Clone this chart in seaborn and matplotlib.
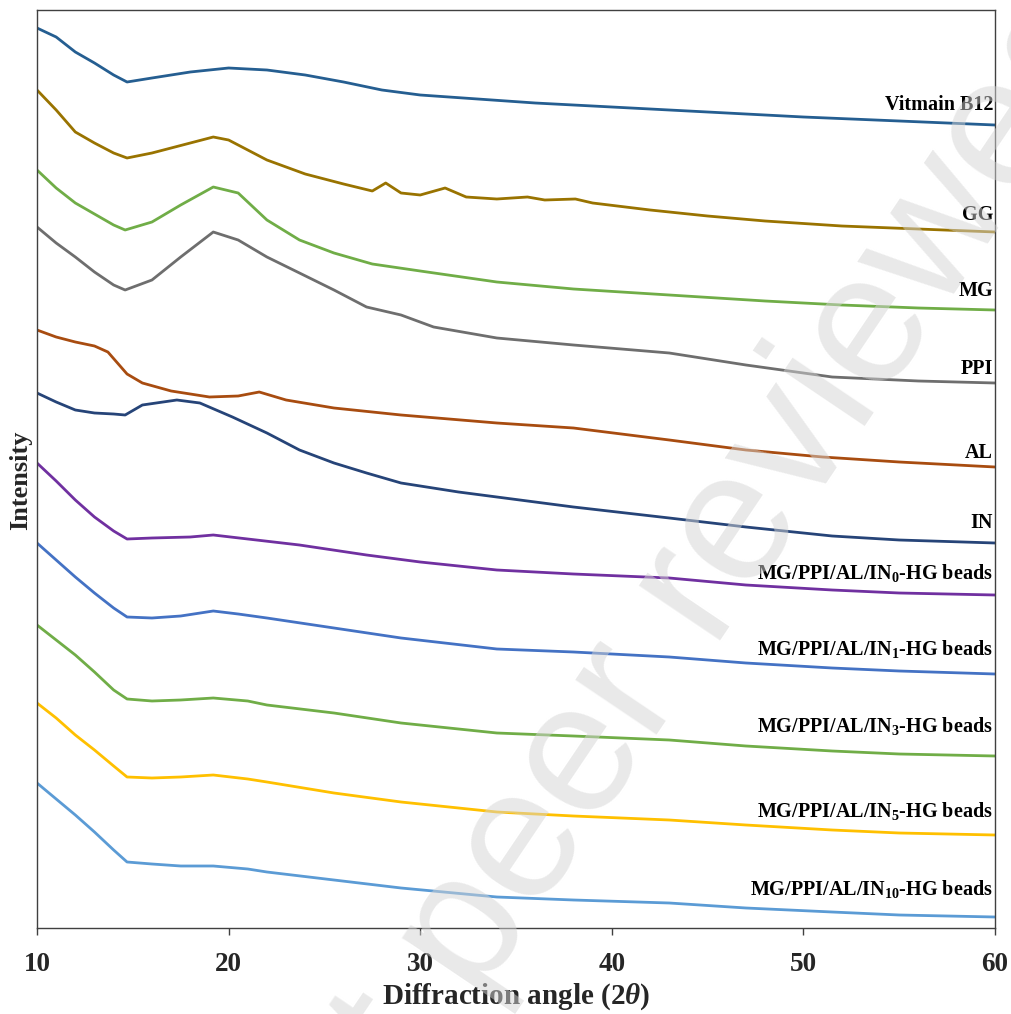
import numpy as np
import pandas as pd
import matplotlib
matplotlib.use('Agg')
import matplotlib.pyplot as plt
import seaborn as sns

# XRD patterns (intensity in arbitrary, stacked units)
x_b12 = [10, 11, 12, 13, 14, 14.7, 16, 18, 20, 22, 24, 26, 28, 30, 33, 36, 40, 45, 50, 55, 60]
y_b12 = [900, 891, 876, 865, 853, 846, 850, 856, 860, 858, 853, 846, 838, 833, 829, 825, 821, 816, 811, 807, 803]

x_gg = [10, 11, 12, 13, 14, 14.7, 16, 18, 19.2, 20, 22, 24, 26, 27.5, 28.2, 29, 30, 31.3, 32.4, 34,
        35.6, 36.5, 38.1, 39, 42, 45, 48, 52, 56, 60]
y_gg = [838, 818, 796, 785, 775, 770, 775, 785, 791, 788, 768, 754, 744, 737, 745, 735, 733, 740, 731, 729,
        731, 728, 729, 725, 718, 712, 707, 702, 699, 696]

x_mg = [10, 11, 12, 13, 14, 14.6, 16, 17.5, 19.2, 20.5, 22, 23.7, 25.5, 27.5, 30, 34, 38, 43, 48, 52, 56, 60]
y_mg = [758, 740, 725, 714, 703, 698, 706, 723, 741, 735, 708, 688, 675, 664, 657, 646, 639, 633, 627, 623, 620, 618]

x_ppi = [10, 11, 12, 13, 14, 14.6, 16, 17.5, 19.2, 20.5, 22, 23.7, 25.5, 27.2, 29, 30.7, 34, 38, 43, 47, 51.5, 56, 60]
y_ppi = [701, 685, 671, 656, 643, 638, 648, 671, 696, 688, 671, 655, 638, 621, 613, 601, 590, 583, 575, 563, 551, 547, 545]

x_al = [10, 11, 12, 13, 13.7, 14.2, 14.7, 15.5, 17, 19, 20.5, 21.6, 23, 25.5, 29, 34, 38, 43, 47, 51, 55, 60]
y_al = [598, 591, 586, 582, 576, 565, 554, 545, 537, 531, 532, 536, 528, 520, 513, 505, 500, 488, 478, 471, 466, 461]

x_in = [10, 11, 12, 13, 14, 14.6, 15.5, 17.3, 18.5, 20.2, 22, 23.7, 25.5, 27.2, 29, 32, 34, 38, 43, 47, 51.5, 55, 60]
y_in = [535, 526, 518, 515, 514, 513, 523, 528, 525, 511, 495, 478, 465, 455, 445, 436, 431, 421, 410, 401, 392, 388, 385]

x_in0 = [10, 11, 12, 13, 14, 14.7, 16, 18, 19.2, 21, 23.7, 27.2, 30, 34, 38, 43, 47, 51.5, 55, 60]
y_in0 = [465, 447, 428, 411, 397, 389, 390, 391, 393, 389, 383, 373, 366, 358, 354, 350, 343, 338, 335, 333]

x_in1 = [10, 11, 12, 13, 14, 14.7, 16, 17.5, 19.2, 20.5, 22, 25.5, 29, 34, 38, 43, 47, 51.5, 55, 60]
y_in1 = [385, 368, 351, 335, 320, 311, 310, 312, 317, 314, 310, 300, 290, 279, 276, 271, 265, 260, 257, 254]

x_beads = [10, 11, 12, 13, 14, 14.7, 16, 17.5, 19.2, 21, 22, 25.5, 29, 34, 38, 43, 47, 51.5, 55, 60]
y_in3 = [303, 288, 273, 256, 238, 229, 227, 228, 230, 227, 223, 215, 205, 195, 192, 188, 182, 177, 174, 172]
y_in5 = [225, 210, 193, 178, 162, 151, 150, 151, 153, 149, 146, 135, 126, 116, 112, 108, 103, 98, 95, 93]
y_in10 = [145, 129, 113, 96, 78, 66, 64, 62, 62, 59, 56, 48, 40, 31, 28, 25, 20, 16, 13, 11]

sample_names = ['Vitmain B12', 'GG', 'MG', 'PPI', 'AL', 'IN',
                'MG/PPI/AL/IN$_\\mathrm{0}$-HG beads',
                'MG/PPI/AL/IN$_\\mathrm{1}$-HG beads',
                'MG/PPI/AL/IN$_\\mathrm{3}$-HG beads',
                'MG/PPI/AL/IN$_\\mathrm{5}$-HG beads',
                'MG/PPI/AL/IN$_\\mathrm{10}$-HG beads']
x_tick_values = [10, 20, 30, 40, 50, 60]

series = [(x_b12, y_b12), (x_gg, y_gg), (x_mg, y_mg), (x_ppi, y_ppi), (x_al, y_al), (x_in, y_in),
          (x_in0, y_in0), (x_in1, y_in1), (x_beads, y_in3), (x_beads, y_in5), (x_beads, y_in10)]

# layout / style
colors = ['#255E91', '#997300', '#70AD47', '#6E6E6E', '#A84C10', '#264478',
          '#7030A0', '#4472C4', '#70AD47', '#FFC000', '#5B9BD5']
label_y = [823, 713, 637, 559, 475, 405, 355, 279, 202, 117, 39]

frames = []
for name, (xs, ys) in zip(sample_names, series):
    frames.append(pd.DataFrame({'angle': xs, 'intensity': ys, 'sample': name}))
df = pd.concat(frames, ignore_index=True)

sns.set_theme(style='white')
plt.rcParams['font.family'] = ['Liberation Serif', 'DejaVu Serif']
plt.rcParams['mathtext.fontset'] = 'custom'
plt.rcParams['mathtext.rm'] = 'Liberation Serif:bold'
plt.rcParams['mathtext.it'] = 'Liberation Serif:italic:bold'
plt.rcParams['mathtext.bf'] = 'Liberation Serif:bold'

fig = plt.figure(figsize=(10.11, 10.14), dpi=100)
ax = fig.add_axes([37 / 1011, 1 - 928 / 1014, 958 / 1011, 918 / 1014])

sns.lineplot(data=df, x='angle', y='intensity', hue='sample', palette=dict(zip(sample_names, colors)),
             estimator=None, sort=True, linewidth=2.0, legend=False, ax=ax)

for name, ly in zip(sample_names, label_y):
    ax.text(59.9, ly, name, ha='right', va='center', fontsize=14.5, fontweight='bold', color='black')

ax.set_xlim(10, 60)
ax.set_ylim(0, 918)
ax.set_xticks(x_tick_values)
ax.set_xticklabels([str(v) for v in x_tick_values], fontsize=19.5, fontweight='bold')
ax.set_yticks([])
ax.tick_params(axis='x', direction='out', length=5, width=1, color='#404040', pad=12, bottom=True)

for sp in ax.spines.values():
    sp.set_color('#404040')
    sp.set_linewidth(1)

ax.set_xlabel('Diffraction angle (2$\\mathit{\\theta}$)', fontsize=21, fontweight='bold')
ax.set_ylabel('Intensity', fontsize=19, fontweight='bold')
ax.xaxis.set_label_coords(0.5, -0.058)
ax.yaxis.set_label_coords(-0.005, 0.488)

# watermark
fig.text(668 / 1011, 1 - 632 / 1014, 'Not peer reviewed', rotation=56, fontsize=134,
         family='Liberation Sans', color='#d4d4d4', alpha=0.5, ha='center', va='center', zorder=5)

fig.savefig('out.png', dpi=100)
plt.close(fig)
